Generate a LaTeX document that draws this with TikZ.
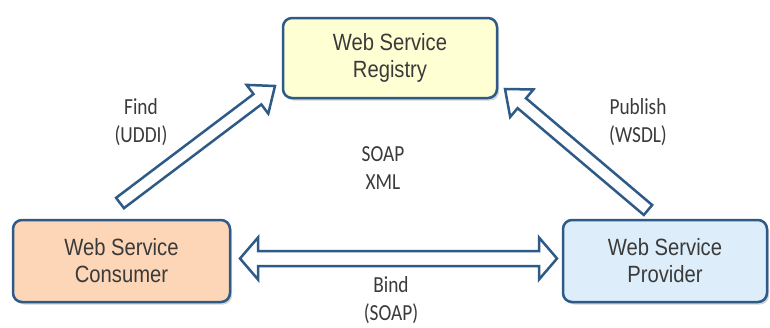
\documentclass[tikz,border=0pt]{standalone}
\usepackage{fontspec}
\setmainfont[FakeStretch=0.86]{Liberation Sans}
\newfontfamily\labelfont[FakeStretch=0.84]{Carlito}
\usetikzlibrary{calc,shadows}
\definecolor{boxblue}{HTML}{2E5A88}
\definecolor{regfill}{HTML}{FFFFD4}
\definecolor{consfill}{HTML}{FCD6B6}
\definecolor{provfill}{HTML}{DDEEFA}
\definecolor{txtgray}{HTML}{3A3A3A}

\newcommand{\hollowarrow}[2]{%
\draw [arrowline] let \p1=($(#2)-(#1)$), \n1={atan2(\y1,\x1)}, \n2={veclen(\x1,\y1)} in
  [shift={(#1)}, rotate=\n1]
  (0,-6.5) -- ({\n2-22},-6.5) -- ({\n2-22},-18) -- (\n2,0) -- ({\n2-22},18) -- ({\n2-22},6.5) -- (0,6.5) -- cycle;}
\newcommand{\hollowdouble}[2]{%
\draw [arrowline] let \p1=($(#2)-(#1)$), \n1={atan2(\y1,\x1)}, \n2={veclen(\x1,\y1)} in
  [shift={(#1)}, rotate=\n1]
  (0,0) -- (18,21) -- (18,7.5) -- ({\n2-18},7.5) -- ({\n2-18},21) -- (\n2,0) -- ({\n2-18},-21) -- ({\n2-18},-7.5) -- (18,-7.5) -- (18,-21) -- cycle;}

\begin{document}
\begin{tikzpicture}[x=1pt,y=1pt]
\tikzstyle{box}=[draw=boxblue, line width=2.5pt, rounded corners=9pt, align=center, text=txtgray,
  font=\fontsize{23.5}{27}\selectfont, minimum height=82pt,
  drop shadow={opacity=0.35, shadow xshift=2pt, shadow yshift=-2.5pt}]
\tikzstyle{lbl}=[align=center, text=txtgray, font=\labelfont\fontsize{23}{28}\selectfont]
\tikzstyle{arrowline}=[draw=boxblue, line width=2.5pt, fill=white, line join=miter]
\useasboundingbox (0,0) rectangle (770,-327);
\node [box, fill=regfill, minimum width=214pt, minimum height=80pt] (reg) at (390,-58) {Web Service\\Registry};
\node [box, fill=consfill, minimum width=217pt] (cons) at (121.5,-261) {Web Service\\Consumer};
\node [box, fill=provfill, minimum width=204pt] (prov) at (665,-261) {Web Service\\Provider};
\coordinate (findtail) at (120,-203);
\coordinate (findtip) at (275,-86);
\coordinate (pubtail) at (648,-210);
\coordinate (pubtip) at (505,-89);
\coordinate (bindl) at (240,-258.5);
\coordinate (bindr) at (557,-258.5);
\hollowarrow{findtail}{findtip}
\hollowarrow{pubtail}{pubtip}
\hollowdouble{bindl}{bindr}
\node [lbl] (find) at (141,-122) {Find\\(UDDI)};
\node [lbl] (publish) at (638,-122) {Publish\\(WSDL)};
\node [lbl] (soap) at (383,-168.5) {SOAP\\XML};
\node [lbl] (bind) at (391,-300) {Bind\\(SOAP)};
\end{tikzpicture}
\end{document}
